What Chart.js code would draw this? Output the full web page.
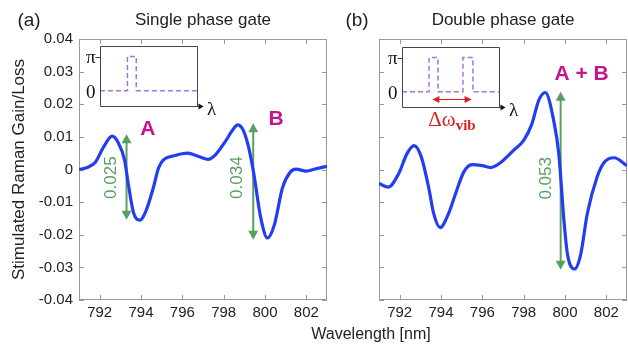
<!DOCTYPE html>
<html>
<head>
<meta charset="utf-8">
<script src="https://cdn.jsdelivr.net/npm/chart.js@4.4.0/dist/chart.umd.min.js"></script>
<style>
  html, body { margin: 0; padding: 0; background: #fff; }
  #quadro { position: relative; width: 628px; height: 344px; overflow: hidden; }
  #quadro canvas { position: absolute; }
  #titulo-x {
    position: absolute; left: 271px; width: 200px; top: 325px;
    text-align: center; font: 16px "Liberation Sans", Arial, sans-serif; color: #222;
  }
</style>
</head>
<body>
<div id="quadro">
  <canvas id="grafico-a" width="335" height="344" style="left:0;top:0"></canvas>
  <canvas id="grafico-b" width="293" height="344" style="left:335px;top:0"></canvas>
  <canvas id="inset-a" width="160" height="90" style="left:70px;top:38px"></canvas>
  <canvas id="inset-b" width="160" height="100" style="left:370px;top:38px"></canvas>
  <div id="titulo-x">Wavelength [nm]</div>
</div>
<script>
const FONTE = "'Liberation Sans', Arial, sans-serif";
const SERIF = "'Liberation Serif', 'Times New Roman', serif";

// ticks dos eixos
const ticks_x = [792, 794, 796, 798, 800, 802];
const ticks_y = [-0.04, -0.03, -0.02, -0.01, 0, 0.01, 0.02, 0.03, 0.04];

// (a) single phase gate
const lambda_a = [791.0, 791.4, 791.8, 792.2, 792.6, 792.9, 793.2, 793.4, 793.65, 793.95,
  794.25, 794.6, 794.85, 795.1, 795.6, 796.25, 796.8, 797.25, 797.6, 798.1, 798.4,
  798.68, 798.95, 799.2, 799.45, 799.8, 800.12, 800.45, 800.85, 801.2, 801.5, 802.0,
  802.45, 803.0];
const ganho_a = [0.0, 0.0006, 0.0023, 0.0070, 0.0102, 0.0082, 0.0030, -0.0050, -0.0135, -0.0155,
  -0.0125, -0.0055, 0.0005, 0.0030, 0.0042, 0.0050, 0.0040, 0.0031, 0.0045, 0.0088, 0.0118,
  0.0137, 0.0120, 0.0070, -0.0010, -0.0150, -0.0210, -0.0170, -0.0055, -0.0010, 0.0001, -0.0005,
  0.0002, 0.0010];

// (b) double phase gate
const lambda_b = [791.0, 791.45, 791.95, 792.35, 792.7, 793.05, 793.4, 793.65, 793.96, 794.36,
  794.7, 795.1, 795.5, 796.0, 796.4, 796.85, 797.5, 798.0, 798.4, 798.73, 799.05, 799.45,
  799.7, 799.95, 800.12, 800.46, 800.76, 801.08, 801.55, 801.9, 802.37, 803.0];
const ganho_b = [-0.0043, -0.0054, -0.0013, 0.0048, 0.0073, 0.0038, -0.0054, -0.0136, -0.0178, -0.0136,
  -0.0075, -0.0008, 0.0015, 0.0012, 0.0006, 0.0020, 0.0058, 0.0089, 0.0140, 0.0212, 0.0236, 0.0151,
  0.0048, -0.0157, -0.0260, -0.0305, -0.0260, -0.0135, -0.0024, 0.0022, 0.0036, 0.0012];

// setas verdes (posição, topo, base, texto)
const setas_a_x = [793.3, 799.43];
const setas_a_topo = [0.0108, 0.0142];
const setas_a_base = [-0.0154, -0.0215];
const setas_a_texto = ["0.025", "0.034"];
const setas_b_x = [799.79];
const setas_b_topo = [0.0238];
const setas_b_base = [-0.0307];
const setas_b_texto = ["0.053"];

// perfis de fase dos insets (0 ou pi)
const fase_a_x = [0, 0.28, 0.37, 1];
const fase_a_y = [0, 1, 0, 0];
const fase_b_x = [0, 0.276, 0.367, 0.622, 0.724, 1];
const fase_b_y = [0, 1, 0, 1, 0, 0];
const delta_vib = [0.31, 0.71];

const AZUL = "rgb(35, 62, 240)";
const VERDE = "rgb(88, 160, 96)";
const MAGENTA = "rgb(196, 22, 140)";
const ROXO = "rgb(165, 115, 225)";
const VERMELHO = "rgb(220, 30, 30)";

function pontos(xs, ys) {
  return xs.map((x, i) => ({ x: x, y: ys[i] }));
}

function setaVertical(ctx, x, y1, y2) {
  const h = 9, w = 5;
  ctx.beginPath();
  ctx.moveTo(x, y1 + h - 1);
  ctx.lineTo(x, y2 - h + 1);
  ctx.stroke();
  ctx.beginPath();
  ctx.moveTo(x, y1); ctx.lineTo(x - w, y1 + h); ctx.lineTo(x + w, y1 + h); ctx.closePath();
  ctx.moveTo(x, y2); ctx.lineTo(x - w, y2 - h); ctx.lineTo(x + w, y2 - h); ctx.closePath();
  ctx.fill();
}

// moldura, ticks internos, setas e rótulos
const molduraPlugin = {
  id: "moldura",
  beforeDatasetsDraw(chart, args, opts) {
    const { ctx, chartArea: a, scales } = chart;
    ctx.save();
    ctx.strokeStyle = "#999";
    ctx.lineWidth = 1;
    ctx.strokeRect(Math.round(a.left) + 0.5, Math.round(a.top) + 0.5, Math.round(a.width) - 1, Math.round(a.height) - 1);
    ctx.beginPath();
    ticks_x.forEach((v) => {
      const px = Math.round(scales.x.getPixelForValue(v)) + 0.5;
      ctx.moveTo(px, a.bottom); ctx.lineTo(px, a.bottom - 5);
      ctx.moveTo(px, a.top); ctx.lineTo(px, a.top + 5);
    });
    ticks_y.forEach((v) => {
      const py = Math.round(scales.y.getPixelForValue(v)) + 0.5;
      ctx.moveTo(a.left, py); ctx.lineTo(a.left + 5, py);
      ctx.moveTo(a.right, py); ctx.lineTo(a.right - 5, py);
    });
    ctx.stroke();

    // setas verdes
    ctx.strokeStyle = VERDE;
    ctx.fillStyle = VERDE;
    ctx.lineWidth = 2;
    opts.setas.x.forEach((v, i) => {
      setaVertical(ctx, scales.x.getPixelForValue(v),
        scales.y.getPixelForValue(opts.setas.topo[i]),
        scales.y.getPixelForValue(opts.setas.base[i]));
    });
    ctx.restore();
  },
  afterDraw(chart, args, opts) {
    const { ctx, chartArea: a, scales } = chart;
    ctx.save();
    ctx.textAlign = "center";
    ctx.textBaseline = "middle";
    ctx.fillStyle = "#222";
    ctx.font = "19px " + FONTE;
    ctx.fillText(opts.letra, opts.letraX, 21);
    ctx.font = "17px " + FONTE;
    ctx.fillText(opts.titulo, (a.left + a.right) / 2, 20);

    // valores rotacionados
    ctx.fillStyle = VERDE;
    ctx.font = "17px " + FONTE;
    opts.valores.forEach((r) => {
      ctx.save();
      ctx.translate(scales.x.getPixelForValue(r.x), scales.y.getPixelForValue(r.y));
      ctx.rotate(-Math.PI / 2);
      ctx.fillText(r.texto, 0, 0);
      ctx.restore();
    });

    // A, B
    ctx.fillStyle = MAGENTA;
    ctx.font = "bold 21px " + FONTE;
    opts.rotulos.forEach((r) => {
      ctx.fillText(r.texto, scales.x.getPixelForValue(r.x), scales.y.getPixelForValue(r.y));
    });
    ctx.restore();
  },
};

function criarPainel(id, lambdas, ganhos, opcoes) {
  const ctx = document.getElementById(id).getContext("2d");
  return new Chart(ctx, {
    type: "line",
    data: {
      datasets: [
        {
          data: pontos(lambdas, ganhos),
          borderColor: AZUL,
          borderWidth: 3.2,
          pointRadius: 0,
          cubicInterpolationMode: "monotone",
          fill: false,
        },
      ],
    },
    options: {
      responsive: false,
      animation: false,
      layout: { padding: { left: 0, right: opcoes.direita, top: 39, bottom: 0 } },
      plugins: {
        legend: { display: false },
        tooltip: { enabled: false },
        moldura: opcoes.moldura,
      },
      scales: {
        x: {
          type: "linear",
          min: 791,
          max: 803,
          afterBuildTicks: (s) => { s.ticks = ticks_x.map((v) => ({ value: v })); },
          afterFit: (s) => { s.height = 44; },
          grid: { display: false, drawTicks: false },
          border: { display: false },
          ticks: { font: { family: FONTE, size: 15 }, color: "#222", padding: 4, maxRotation: 0 },
        },
        y: {
          type: "linear",
          min: -0.04,
          max: 0.04,
          afterBuildTicks: (s) => { s.ticks = ticks_y.map((v) => ({ value: v })); },
          afterFit: (s) => { s.width = opcoes.larguraY; },
          grid: { display: false, drawTicks: false },
          border: { display: false },
          ticks: {
            display: opcoes.mostrarY,
            font: { family: FONTE, size: 15 },
            color: "#222",
            padding: 6,
            callback: (v) => (v === 0 ? "0" : v.toFixed(2)),
          },
          title: {
            display: opcoes.mostrarY,
            text: "Stimulated Raman Gain/Loss",
            font: { family: FONTE, size: 17 },
            color: "#222",
            padding: { top: 9, bottom: 0 },
          },
        },
      },
    },
    plugins: [molduraPlugin],
  });
}

criarPainel("grafico-a", lambda_a, ganho_a, {
  direita: 8,
  larguraY: 79,
  mostrarY: true,
  moldura: {
    letra: "(a)", letraX: 29, titulo: "Single phase gate",
    setas: { x: setas_a_x, topo: setas_a_topo, base: setas_a_base },
    valores: [
      { texto: setas_a_texto[0], x: 792.54, y: -0.0025 },
      { texto: setas_a_texto[1], x: 798.66, y: -0.0025 },
    ],
    rotulos: [
      { texto: "A", x: 794.33, y: 0.0123 },
      { texto: "B", x: 800.54, y: 0.0154 },
    ],
  },
});

criarPainel("grafico-b", lambda_b, ganho_b, {
  direita: 1,
  larguraY: 44,
  mostrarY: false,
  moldura: {
    letra: "(b)", letraX: 22, titulo: "Double phase gate",
    setas: { x: setas_b_x, topo: setas_b_topo, base: setas_b_base },
    valores: [{ texto: setas_b_texto[0], x: 799.08, y: -0.0027 }],
    rotulos: [{ texto: "A + B", x: 800.8, y: 0.0292 }],
  },
});

// insets com o perfil de fase
const insetPlugin = {
  id: "inset",
  afterDraw(chart, args, opts) {
    const { ctx, chartArea: a, scales } = chart;
    const l = Math.round(a.left) + 0.5, t = Math.round(a.top) + 0.5;
    const r = Math.round(a.right) - 0.5, b = Math.round(a.bottom) - 0.5;
    ctx.save();
    ctx.strokeStyle = "#444";
    ctx.fillStyle = "#111";
    ctx.lineWidth = 1;
    ctx.beginPath();
    ctx.moveTo(r, b); ctx.lineTo(r, t); ctx.lineTo(l, t); ctx.lineTo(l, b); ctx.lineTo(r + 3, b);
    ctx.stroke();
    ctx.beginPath();
    ctx.moveTo(r + 6, b); ctx.lineTo(r + 1, b - 3); ctx.lineTo(r + 1, b + 3); ctx.closePath();
    ctx.fill();

    // ticks 0 e pi
    const yPi = Math.round(scales.y.getPixelForValue(1)) + 0.5;
    const y0 = Math.round(scales.y.getPixelForValue(0)) + 0.5;
    ctx.beginPath();
    ctx.moveTo(l - 5, yPi); ctx.lineTo(l, yPi);
    ctx.stroke();
    ctx.font = "19px " + SERIF;
    ctx.textAlign = "right";
    ctx.textBaseline = "middle";
    ctx.fillText("\u03c0", l - 5, yPi + 1);
    ctx.fillText("0", l - 5, y0 + 2);
    ctx.textAlign = "center";
    ctx.fillText("\u03bb", r + 14, b + 4);

    if (opts.delta) {
      const x1 = scales.x.getPixelForValue(opts.delta[0]);
      const x2 = scales.x.getPixelForValue(opts.delta[1]);
      const yd = b - 8;
      ctx.strokeStyle = VERMELHO;
      ctx.fillStyle = VERMELHO;
      ctx.lineWidth = 1.2;
      ctx.beginPath();
      ctx.moveTo(x1 + 3, yd); ctx.lineTo(x2 - 3, yd);
      ctx.stroke();
      ctx.beginPath();
      ctx.moveTo(x1, yd); ctx.lineTo(x1 + 7, yd - 3.5); ctx.lineTo(x1 + 7, yd + 3.5); ctx.closePath();
      ctx.moveTo(x2, yd); ctx.lineTo(x2 - 7, yd - 3.5); ctx.lineTo(x2 - 7, yd + 3.5); ctx.closePath();
      ctx.fill();
      const xc = (x1 + x2) / 2;
      ctx.textAlign = "left";
      ctx.textBaseline = "alphabetic";
      ctx.font = "21px " + SERIF;
      const w1 = ctx.measureText("\u0394\u03c9").width;
      ctx.font = "bold 15px " + SERIF;
      const w2 = ctx.measureText("vib").width;
      const x0 = xc - (w1 + w2) / 2;
      ctx.font = "21px " + SERIF;
      ctx.fillText("\u0394\u03c9", x0, b + 18);
      ctx.font = "bold 15px " + SERIF;
      ctx.fillText("vib", x0 + w1, b + 22);
    }
    ctx.restore();
  },
};

function criarInset(id, xs, ys, padding, delta) {
  const ctx = document.getElementById(id).getContext("2d");
  return new Chart(ctx, {
    type: "line",
    data: {
      datasets: [
        {
          data: pontos(xs, ys),
          borderColor: ROXO,
          borderWidth: 1.5,
          borderDash: [5, 3],
          pointRadius: 0,
          stepped: true,
          fill: false,
        },
      ],
    },
    options: {
      responsive: false,
      animation: false,
      layout: { padding: padding },
      plugins: { legend: { display: false }, tooltip: { enabled: false }, inset: { delta: delta } },
      scales: {
        x: { type: "linear", min: 0, max: 1, display: false },
        y: { type: "linear", min: -0.48, max: 1.31, display: false },
      },
    },
    plugins: [insetPlugin],
  });
}

criarInset("inset-a", fase_a_x, fase_a_y, { left: 30, right: 32, top: 8, bottom: 21 }, null);
criarInset("inset-b", fase_b_x, fase_b_y, { left: 32, right: 30, top: 9, bottom: 30 }, delta_vib);
</script>
</body>
</html>
